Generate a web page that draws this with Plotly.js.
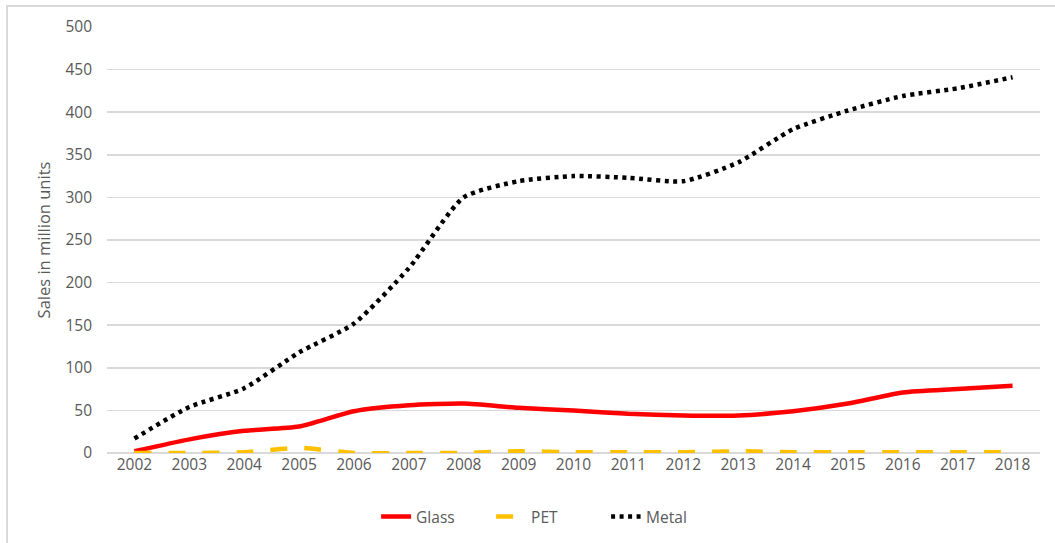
<!DOCTYPE html>
<html>
<head>
<meta charset="utf-8">
<script src="https://cdn.plot.ly/plotly-3.0.1.min.js"></script>
<style>
  html, body { margin: 0; padding: 0; background: #fff; }
  #frame { position: absolute; left: 6px; top: 5px; width: 1100px; height: 600px; border: 2px solid #d9d9d9; box-sizing: border-box; pointer-events: none; z-index: 5; }
  #chart { width: 1055px; height: 543px; }
</style>
</head>
<body>
<div id="frame"></div>
<div id="chart"></div>
<script>
const years = ["2002","2003","2004","2005","2006","2007","2008","2009","2010","2011","2012","2013","2014","2015","2016","2017","2018"];
const glass = [2, 16, 26, 31, 49, 56, 58, 53, 50, 46, 44, 44, 49, 58, 71, 75, 79];
const pet   = [0, 0, 1, 6, 0, 0, 0, 2, 1, 1, 1, 2, 1, 1, 1, 1, 1];
const metal = [17, 54, 76, 118, 152, 217, 300, 319, 325, 323, 319, 341, 380, 402, 419, 428, 441];
const yTicks = [0, 50, 100, 150, 200, 250, 300, 350, 400, 450, 500];

const traces = [
  { x: years, y: glass, name: "Glass", type: "scatter", mode: "lines",
    line: { color: "#ff0000", width: 4.5, shape: "spline", smoothing: 0.6 } },
  { x: years, y: pet, name: "PET", type: "scatter", mode: "lines",
    line: { color: "#ffc000", width: 4.5, dash: "17px,17px", shape: "spline", smoothing: 0.6 } },
  { x: years, y: metal, name: "Metal", type: "scatter", mode: "lines",
    line: { color: "#000000", width: 4.5, dash: "4px,4.5px", shape: "spline", smoothing: 0.6 } }
];

const FONT = "'Open Sans', 'Noto Sans', sans-serif";
const layout = {
  width: 1055, height: 543,
  margin: { l: 107, r: 15, t: 27, b: 90 },
  paper_bgcolor: "#ffffff", plot_bgcolor: "#ffffff",
  font: { family: FONT, size: 15.5, color: "#595959" },
  showlegend: true,
  legend: { orientation: "h", xref: "container", yref: "container",
            x: 0.52, xanchor: "center", y: 0.048, yanchor: "middle",
            entrywidth: 70, entrywidthmode: "pixels",
            font: { family: FONT, size: 15.5, color: "#595959" }, traceorder: "normal" },
  xaxis: { type: "category", range: [-0.5, 16.5], showgrid: false, zeroline: false,
           showline: false, ticks: "", tickfont: { family: FONT, size: 15.5, color: "#595959" }, fixedrange: true },
  yaxis: { range: [0, 500], tickvals: yTicks, ticktext: yTicks.map(String),
           showgrid: true, gridcolor: "#d9d9d9", gridwidth: 1.5, zeroline: true,
           zerolinecolor: "#d9d9d9", zerolinewidth: 1.5, showline: false, ticks: "",
           ticklabelstandoff: 14,
           tickfont: { family: FONT, size: 15.5, color: "#595959" },
           title: { text: "Sales in million units", font: { family: FONT, size: 16.5, color: "#595959" }, standoff: 10 },
           fixedrange: true }
};

Plotly.newPlot("chart", traces, layout, { displayModeBar: false, staticPlot: true });
</script>
</body>
</html>
